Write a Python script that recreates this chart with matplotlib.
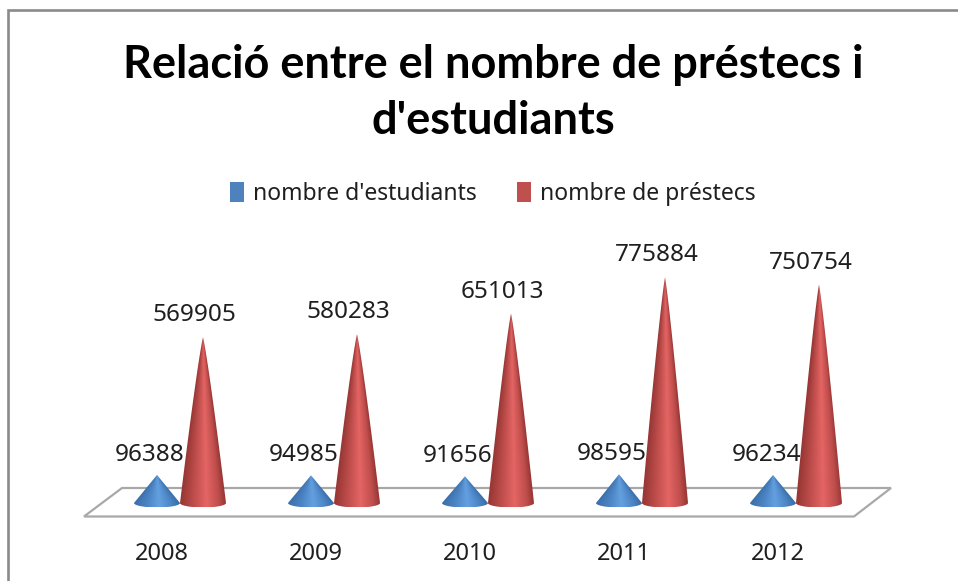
import numpy as np
import matplotlib
matplotlib.use('Agg')
import matplotlib.pyplot as plt
from matplotlib.colors import LinearSegmentedColormap
from matplotlib.patches import Patch, Polygon

# Data
years = ['2008', '2009', '2010', '2011', '2012']
estudiants = [96388, 94985, 91656, 98595, 96234]
prestecs = [569905, 580283, 651013, 775884, 750754]

W, H = 958, 581
BASE_PX = 503          # pixel row of the value 0
BOTTOM_PX = 523        # pixel row of the lower edge of the axes
PX_PER_UNIT = 0.000291
STEP_PX = 154
FIRST_PX = 162
LABEL_FONT = 'Noto Sans'
TEXT_COLOR = '#1f1f1f'

blue_cmap = LinearSegmentedColormap.from_list(
    'blue_cone', [(0, '#3a6ea8'), (0.3, '#4d86c6'), (0.55, '#64a0e0'), (0.8, '#4d86c6'), (1, '#376ca6')])
red_cmap = LinearSegmentedColormap.from_list(
    'red_cone', [(0, '#963634'), (0.3, '#bf4e4c'), (0.58, '#e46564'), (0.85, '#bf4e4c'), (1, '#963634')])

fig = plt.figure(figsize=(W / 100, H / 100), dpi=100, facecolor='white')

# Pixel axes behind the chart, for the frame, the floor and the title
bg = fig.add_axes([0, 0, 1, 1])
bg.set_xlim(0, W)
bg.set_ylim(H, 0)
bg.axis('off')
bg.plot([8, 8, W], [H, 10, 10], color='#8a8a8a', lw=1.9, solid_joinstyle='miter')
bg.add_patch(Polygon([(84, 516.5), (122, 488), (891, 488), (854, 516.5)], closed=True,
                     facecolor='white', edgecolor='#a8a8a8', lw=1.6))
bg.text(493, 93, "Relació entre el nombre de préstecs i\nd'estudiants", ha='center', va='center',
        fontsize=32.5, fontweight='bold', family='Lato', color='black', linespacing=1.42)

ax = fig.add_axes([0, (H - BOTTOM_PX) / H, 1, BOTTOM_PX / H])
ax.patch.set_alpha(0)
XLIM = (-FIRST_PX / STEP_PX, (W - FIRST_PX) / STEP_PX)
YLIM = (-(BOTTOM_PX - BASE_PX) / PX_PER_UNIT, BASE_PX / PX_PER_UNIT)


def draw_cone(ax, cx, value, cmap, power, half_w=23 / STEP_PX, ry=4.5 / PX_PER_UNIT):
    # shaded cone: image of the horizontal shading, clipped to the outline
    t = np.linspace(np.pi, 2 * np.pi, 40)
    base = np.column_stack([cx + half_w * np.cos(t), ry * np.sin(t)])
    h = np.linspace(0, 1, 40)
    right = np.column_stack([cx + half_w * (1 - h) ** power, value * h])
    left = np.column_stack([cx - half_w * (1 - h[::-1]) ** power, value * h[::-1]])
    patch = Polygon(np.vstack([base, right, left]), closed=True, transform=ax.transData, fill=False, lw=0)
    ax.add_patch(patch)
    xs = np.linspace(cx - half_w, cx + half_w, 120)
    ys = np.linspace(-ry, value, 300)
    gx, gy = np.meshgrid(xs, ys)
    width = half_w * np.clip(1 - gy / value, 0.01, 1) ** power
    shade = np.clip((gx - cx) / width, -1, 1)
    im = ax.imshow(shade, extent=(cx - half_w, cx + half_w, -ry, value), origin='lower',
                   aspect='auto', cmap=cmap, vmin=-1, vmax=1, interpolation='bilinear')
    im.set_clip_path(patch)


for i, year in enumerate(years):
    x_blue = i - 5 / STEP_PX
    x_red = i + 41 / STEP_PX
    draw_cone(ax, x_blue, estudiants[i], blue_cmap, 1.0)
    draw_cone(ax, x_red, prestecs[i], red_cmap, 0.88)
    ax.annotate(str(estudiants[i]), (x_blue, estudiants[i]), xytext=(-5, 6), textcoords='offset points',
                ha='center', va='bottom', fontsize=17.5, family=LABEL_FONT, color=TEXT_COLOR)
    ax.annotate(str(prestecs[i]), (x_red, prestecs[i]), xytext=(-6, 7), textcoords='offset points',
                ha='center', va='bottom', fontsize=17.5, family=LABEL_FONT, color=TEXT_COLOR)

ax.set_xlim(*XLIM)
ax.set_ylim(*YLIM)
ax.set_xticks(range(len(years)))
ax.set_xticklabels(years, fontsize=17, family=LABEL_FONT, color=TEXT_COLOR)
ax.tick_params(axis='x', length=0, pad=14)
ax.set_yticks([])
for spine in ax.spines.values():
    spine.set_visible(False)

handles = [Patch(facecolor='#4f81bd', label="nombre d'estudiants"),
           Patch(facecolor='#c0504d', label='nombre de préstecs')]
fig.legend(handles=handles, loc='center', bbox_to_anchor=(493 / W, 1 - 194 / H), ncol=2, frameon=False,
           handlelength=0.62, handleheight=1.0, handletextpad=0.4, columnspacing=1.75,
           prop={'family': LABEL_FONT, 'size': 16.5}, labelcolor=TEXT_COLOR)

fig.savefig('out.png', dpi=100)
